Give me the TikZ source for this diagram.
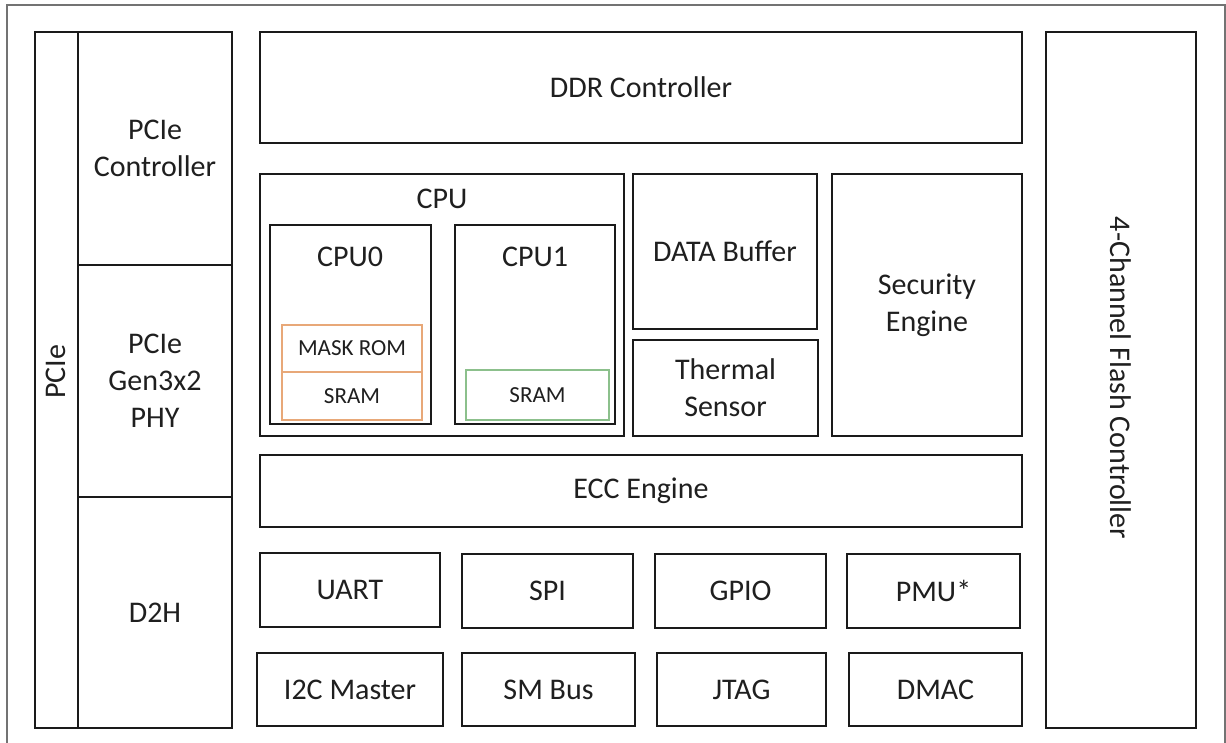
\documentclass[tikz,border=0pt]{standalone}
\usepackage{fontspec}
\setmainfont{Carlito}
\definecolor{ln}{HTML}{1A1A1A}
\definecolor{orng}{HTML}{E8A878}
\definecolor{grn}{HTML}{8CC08C}
\newcommand\blk[7][]{\node[box,#1,minimum width={(#5-#3)*1bp},minimum height={(#6-#4)*1bp}] (#2) at ({(#3+#5)/2},{(#4+#6)/2}) {#7};}
\begin{document}
\begin{tikzpicture}[x=1bp,y=-1bp,
  box/.style={draw=ln,line width=2.5bp,inner sep=0pt,outer sep=0pt,align=center,
    font=\fontsize{30bp}{37bp}\selectfont,text=black!88},
  small/.style={line width=1.2bp,font=\fontsize{23bp}{28bp}\selectfont},
  lbl/.style={inner sep=0pt,font=\fontsize{30bp}{37bp}\selectfont,text=black!88,align=center}]
\useasboundingbox (0,0) rectangle (1226,743);
\fill[white] (0,0) rectangle (1226,743);
% outer frame
\draw[black!55,line width=1.5bp] (7,743) -- (7,5) -- (1225,5) -- (1225,743);
% left column
\blk{pcie}{35}{32}{78}{728}{}
\node[lbl,rotate=90] (pcielbl) at (56,372) {PCIe};
\blk{pctrl}{78}{32}{232}{265}{PCIe\\Controller}
\blk{pphy}{78}{265}{232}{497}{PCIe\\Gen3x2\\PHY}
\blk{d2h}{78}{497}{232}{728}{D2H}
% top
\blk{ddr}{260}{32}{1022}{143}{DDR Controller}
% CPU
\blk{cpu}{260}{174}{624}{436}{}
\node[lbl] (cpulbl) at (442,199) {CPU};
\blk{cpu0}{270}{225}{431}{424}{}
\node[lbl] (cpu0lbl) at (350,257) {CPU0};
\blk{cpu1}{455}{225}{615}{424}{}
\node[lbl] (cpu1lbl) at (535,257) {CPU1};
\blk[small,draw=orng]{mrom}{282}{325}{422}{372}{MASK ROM}
\blk[small,draw=orng]{sram0}{282}{372}{422}{420}{SRAM}
\blk[small,draw=grn]{sram1}{466}{370}{609}{420}{SRAM}
% middle right
\blk{dbuf}{633}{174}{817}{329}{DATA Buffer}
\blk{therm}{633}{340}{818}{436}{Thermal\\Sensor}
\blk{sec}{832}{174}{1022}{436}{Security\\Engine}
% ECC
\blk{ecc}{260}{455}{1022}{527}{ECC Engine}
% peripherals row 1
\blk{uart}{260}{553}{440}{627}{UART}
\blk{spi}{462}{554}{633}{628}{SPI}
\blk{gpio}{655}{554}{826}{628}{GPIO}
\blk{pmu}{847}{554}{1020}{628}{PMU*}
% row 2
\blk{i2c}{257}{653}{443}{726}{I2C Master}
\blk{smbus}{462}{653}{635}{726}{SM Bus}
\blk{jtag}{657}{653}{826}{726}{JTAG}
\blk{dmac}{849}{653}{1022}{726}{DMAC}
% right
\blk{flash}{1046}{32}{1196}{728}{}
\node[lbl,rotate=-90] (flashlbl) at (1121,378) {4-Channel Flash Controller};
\end{tikzpicture}
\end{document}
